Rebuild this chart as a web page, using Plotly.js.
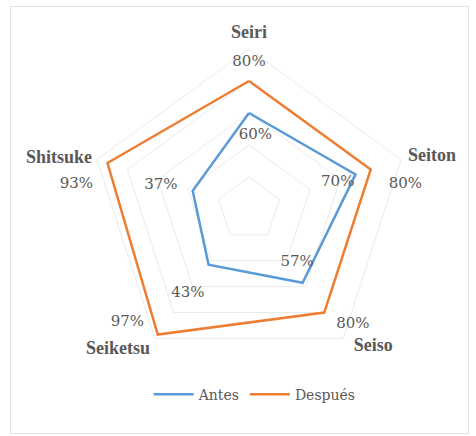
<!DOCTYPE html>
<html><head><meta charset="utf-8">
<script src="https://cdn.plot.ly/plotly-3.0.1.min.js"></script>
<style>
html,body{margin:0;padding:0;background:#fff;}
#frame{position:absolute;left:10px;top:6px;width:459px;height:428px;border:1px solid #e3e3e3;box-sizing:border-box;}
#chart{position:absolute;left:0;top:0;width:476px;height:436px;}
</style>
</head><body>
<div id="frame"></div>
<div id="chart"></div>
<script>
const categories = ["Seiri", "Seiton", "Seiso", "Seiketsu", "Shitsuke"];
const antes = [60, 70, 57, 43, 37];
const despues = [80, 80, 80, 97, 93];
const seriesNames = ["Antes", "Después"];

// label placement offsets (style): radial offset in axis units, angular offset in degrees
const antesLabelDr = [-14, -12, -12, 22, 20];
const antesLabelDth = [5, 1, -6, 0, -3];
const despuesLabelDr = [12, 19, 17, 7, 16];
const despuesLabelDth = [0, 9, -6, 11, -10];
const catLabelDr = [10, 19, 16, 20, 23];
const catLabelDth = [0, 2, -6, 7, -3];

function closed(a){ return a.concat([a[0]]); }
function pct(a){ return a.map(v => v + "%"); }
function mkFont(size, bold, fam){
  return {family: fam || "Liberation Serif", size: size, color: "#595959", weight: bold ? "bold" : "normal"};
}
const step = 360 / categories.length;
const rMax = 100;

function labelTrace(vals, texts, dr, dth, font, name){
  return {type: "scatterpolar", subplot: "polar2", mode: "text", showlegend: false, name: name,
    r: vals.map((v, i) => v + dr[i]),
    theta: vals.map((v, i) => i * step + dth[i]),
    text: texts, textposition: "middle center",
    textfont: font, cliponaxis: false, hoverinfo: "skip"};
}

const traces = [
  {type: "scatterpolar", name: seriesNames[0], mode: "lines",
   r: closed(antes), theta: closed(categories),
   line: {color: "#5B9BD5", width: 2.5}},
  {type: "scatterpolar", name: seriesNames[1], mode: "lines",
   r: closed(despues), theta: closed(categories),
   line: {color: "#ED7D31", width: 2.5}},
  labelTrace(antes, pct(antes), antesLabelDr, antesLabelDth, mkFont(15, false, "DejaVu Serif"), "antesLabels"),
  labelTrace(despues, pct(despues), despuesLabelDr, despuesLabelDth, mkFont(15, false, "DejaVu Serif"), "despuesLabels"),
  labelTrace(categories.map(() => rMax), categories, catLabelDr, catLabelDth, mkFont(18, true), "categoryLabels")
];

// main polar: centre (249,209), radius 160 px
const cx = 249, cy = 209, rad = 160, W = 476, H = 436, k = 1.3;
const dom = {x: [(cx - rad) / W, (cx + rad) / W], y: [1 - (cy + rad) / H, 1 - (cy - rad) / H]};
const dom2 = {x: [(cx - rad * k) / W, (cx + rad * k) / W], y: [1 - (cy + rad * k) / H, 1 - (cy - rad * k) / H]};

const layout = {
  width: W, height: H,
  margin: {l: 0, r: 0, t: 0, b: 0},
  paper_bgcolor: "rgba(0,0,0,0)",
  font: mkFont(14, false, "DejaVu Serif"),
  showlegend: true,
  legend: {orientation: "h", x: 0.535, xanchor: "center", y: 0.095, yanchor: "middle",
           font: mkFont(14, false, "DejaVu Serif"), itemwidth: 40},
  polar: {
    domain: dom,
    bgcolor: "rgba(0,0,0,0)",
    gridshape: "linear",
    radialaxis: {range: [0, rMax], dtick: 20, showticklabels: false, ticks: "",
                 showline: false, gridcolor: "#ebebeb", gridwidth: 1},
    angularaxis: {rotation: 90, direction: "clockwise", showgrid: false,
                  linecolor: "#ebebeb", ticks: "", showticklabels: false}
  },
  polar2: {
    domain: dom2,
    bgcolor: "rgba(0,0,0,0)",
    radialaxis: {range: [0, rMax * k], visible: false, showgrid: false},
    angularaxis: {type: "linear", rotation: 90, direction: "clockwise", visible: false, showgrid: false}
  }
};

Plotly.newPlot("chart", traces, layout, {displayModeBar: false, staticPlot: true});
</script>
</body></html>
